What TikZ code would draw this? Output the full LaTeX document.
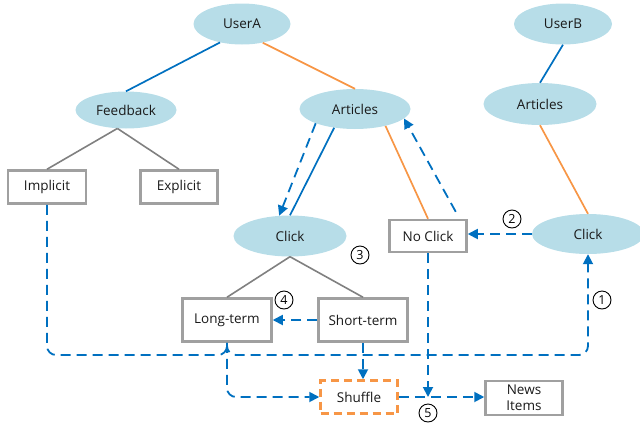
\documentclass[tikz,border=0pt]{standalone}
\usepackage{fontspec}
\setmainfont{Open Sans}
\usetikzlibrary{shapes.geometric,arrows.meta}
\definecolor{ellfill}{HTML}{B7DDE8}
\definecolor{boxgray}{HTML}{A0A0A0}
\definecolor{treegray}{HTML}{808080}
\definecolor{lblue}{HTML}{0070C0}
\definecolor{lorange}{HTML}{F79646}
\definecolor{txt}{HTML}{1A1A1A}
\tikzset{
  ell/.style={ellipse, fill=ellfill, draw=none, inner sep=0pt, text=txt,
    font=\fontsize{13.5}{16}\selectfont},
  bx/.style={rectangle, draw=boxgray, line width=2.5pt, fill=white, inner sep=0pt,
    text=txt, font=\fontsize{13.5}{16}\selectfont},
  shufbox/.style={bx, draw=lorange, dash pattern=on 8pt off 5pt},
  num/.style={circle, draw=black, line width=0.9pt, minimum size=18pt, inner sep=0pt,
    font=\fontsize{12.5}{13}\selectfont},
  bsolid/.style={draw=lblue, line width=1.7pt},
  osolid/.style={draw=lorange, line width=1.7pt},
  gsolid/.style={draw=treegray, line width=1.6pt},
  bdash/.style={draw=lblue, line width=1.8pt, dash pattern=on 10pt off 6pt},
  arr/.style={-{Triangle[length=10pt,width=10pt]}},
}
\begin{document}
\begin{tikzpicture}[x=1pt,y=-1pt]
\useasboundingbox (0,0) rectangle (640,429);
% nodes
\node[ell, minimum width=97pt, minimum height=41pt] (userA) at (242,24) {UserA};
\node[ell, minimum width=101pt, minimum height=37pt] (feedback) at (126,110) {Feedback};
\node[ell, minimum width=111pt, minimum height=40pt] (articlesA) at (355,109) {Articles};
\node[ell, minimum width=98pt, minimum height=41pt] (userB) at (563,24) {UserB};
\node[ell, minimum width=113pt, minimum height=42pt] (articlesB) at (540,104) {Articles};
\node[ell, minimum width=113pt, minimum height=41pt] (clickM) at (290,236) {Click};
\node[ell, minimum width=112pt, minimum height=40pt] (clickR) at (588,234) {Click};
\node[bx, minimum width=77pt, minimum height=32pt] (noclick) at (428,236) {No Click};
\node[bx, minimum width=78pt, minimum height=33pt] (implicit) at (47,187) {Implicit};
\node[bx, minimum width=77pt, minimum height=33pt] (explicit) at (179,187) {Explicit};
\node[bx, minimum width=89pt, minimum height=43pt] (longterm) at (227,320) {Long-term};
\node[bx, minimum width=89pt, minimum height=43pt] (shortterm) at (363,320) {Short-term};
\node[shufbox, minimum width=77pt, minimum height=33pt] (shuffle) at (359,397) {Shuffle};
\node[bx, minimum width=77pt, minimum height=34pt, align=center] (news) at (524,398)
  {\fontsize{13.5}{18}\selectfont News\\Items};
% numbers
\node[num] (n1) at (602,300) {1};
\node[num] (n2) at (512,219) {2};
\node[num] (n3) at (360,255) {3};
\node[num] (n4) at (284,300) {4};
\node[num] (n5) at (428,413) {5};
% bus coordinate
\coordinate (bus) at (0,355);
% tree edges
\draw[bsolid] (userA.220) -- (feedback.north);
\draw[osolid] (userA.318) -- (articlesA.north);
\draw[gsolid] (feedback.245) -- (implicit.north);
\draw[gsolid] (feedback.245) -- (explicit.north);
\draw[bsolid] (articlesA.222) -- (clickM.north);
\draw[osolid] (articlesA.331) -- (noclick.north);
\draw[bsolid] (userB.south) -- (articlesB.north);
\draw[osolid] (articlesB.south) -- (clickR.north);
\draw[gsolid] (clickM.south) -- (longterm.north);
\draw[gsolid] (clickM.south) -- (shortterm.north);
% dashed flow arrows
\draw[bdash, arr] (articlesA.200) -- (clickM.118);
\draw[bdash, arr] ([shift={(-12,-7)}]noclick.north east) -- (articlesA.349);
\draw[bdash, arr] (clickR.west) -- (clickR.west -| noclick.east);
\draw[bdash, arr] (shortterm.west) -- (longterm.east);
\draw[bdash, rounded corners=9pt] (implicit.south) |- (longterm.south |- bus) -- (longterm.south);
\draw[bdash, arr, rounded corners=9pt] (longterm.south) |- (clickR.south |- bus) -- (clickR.south);
\draw[bdash, arr, rounded corners=9pt] (longterm.south) |- (shuffle.west);
\draw[bdash, arr] (shortterm.south) -- (shuffle.north -| shortterm.south);
\draw[bdash, arr] (noclick.south) -- (noclick.south |- shuffle.east);
\draw[bdash, arr] (shuffle.east) -- (shuffle.east -| news.west);
\end{tikzpicture}
\end{document}
